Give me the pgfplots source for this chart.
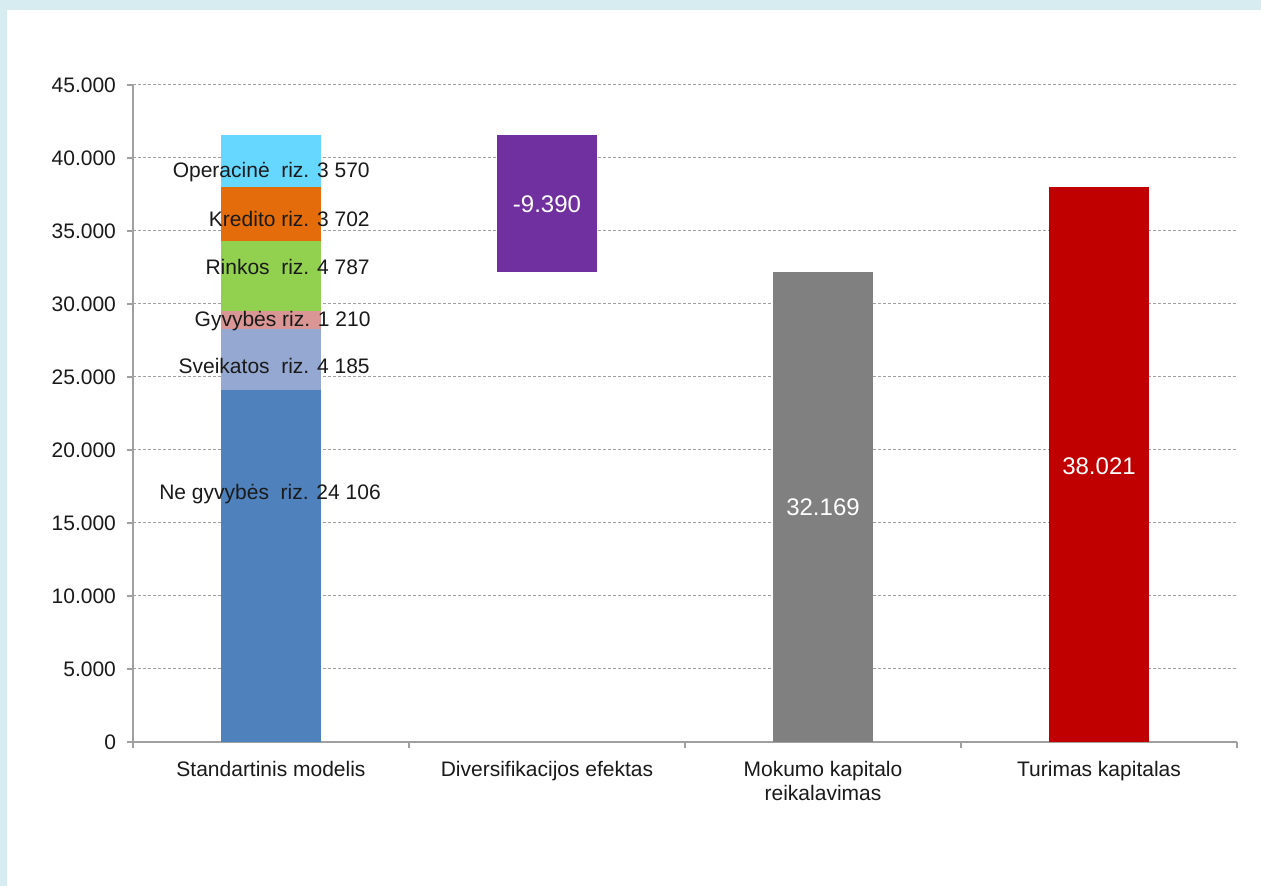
\documentclass[border=0pt]{standalone}
\usepackage{pgfplots}
\pgfplotsset{compat=1.18}
\usepackage{pgfplotstable}
\usepackage{fontspec}
\setmainfont{Liberation Sans}

\definecolor{bgframe}{RGB}{214,236,241}
\definecolor{axisgrey}{RGB}{160,160,160}
\definecolor{gridgrey}{RGB}{160,160,160}
\definecolor{txt}{RGB}{26,26,26}
\definecolor{cnegyv}{RGB}{79,129,189}
\definecolor{csveik}{RGB}{149,168,209}
\definecolor{cgyv}{RGB}{217,150,148}
\definecolor{crinkos}{RGB}{146,208,80}
\definecolor{ckred}{RGB}{228,108,10}
\definecolor{coper}{RGB}{102,215,255}
\definecolor{cdiv}{RGB}{112,48,160}
\definecolor{cmok}{RGB}{128,128,128}
\definecolor{ctur}{RGB}{192,0,0}

\pgfplotstableread{
x base negyv sveik gyv rinkos kred oper div mok tur
0 0 24106 4185 1210 4787 3702 3570 0 0 0
1 32169 0 0 0 0 0 0 9390 0 0
2 0 0 0 0 0 0 0 0 32169 0
3 0 0 0 0 0 0 0 0 0 38021
}\datatable

\newcommand{\chartfont}{\fontsize{10.5}{12}\selectfont}

\pgfplotsset{
  chartframe/.style={
    at={(66.5pt,72pt)}, anchor=south west,
    scale only axis, width=552pt, height=328.5pt,
    xmin=-0.5, xmax=3.5, ymin=0, ymax=45000,
  }
}

\begin{document}
\begin{tikzpicture}
\fill[bgframe] (0,0) rectangle (630.5pt,443pt);
\fill[white] (3.5pt,0) rectangle (630.5pt,438pt);
\begin{axis}[
  chartframe,
  ybar stacked, bar width=50pt,
  ytick={0,5000,...,45000},
  scaled y ticks=false,
  /pgf/number format/.cd, 1000 sep={.}, assume math mode=true, /pgfplots/.cd,
  axis x line*=bottom, axis y line*=left,
  axis line style={draw=axisgrey, line width=0.75pt, -},
  xtick={0,1,2,3},
  xticklabels={Standartinis modelis, Diversifikacijos efektas, {Mokumo kapitalo\\reikalavimas}, Turimas kapitalas},
  major x tick style={draw=none},
  minor xtick={-0.5,0.5,1.5,2.5,3.5},
  minor x tick style={draw=axisgrey, line width=0.75pt},
  y tick style={draw=axisgrey, line width=0.75pt},
  tick align=outside,
  major tick length=3pt, minor tick length=3pt,
  ymajorgrids,
  grid style={gridgrey, line width=0.5pt, dash pattern=on 1.5pt off 1pt},
  every tick label/.append style={font=\chartfont, text=txt},
  xticklabel style={align=center, yshift=-3pt},
  yticklabel style={xshift=-2pt},
  every axis plot/.append style={draw=none},
]
\addplot[fill=none, draw=none] table[x=x, y=base] {\datatable};
\addplot[fill=cnegyv] table[x=x, y=negyv] {\datatable};
\addplot[fill=csveik] table[x=x, y=sveik] {\datatable};
\addplot[fill=cgyv] table[x=x, y=gyv] {\datatable};
\addplot[fill=crinkos] table[x=x, y=rinkos] {\datatable};
\addplot[fill=ckred] table[x=x, y=kred] {\datatable};
\addplot[fill=coper] table[x=x, y=oper] {\datatable};
\addplot[fill=cdiv] table[x=x, y=div] {\datatable};
\addplot[fill=cmok] table[x=x, y=mok] {\datatable};
\addplot[fill=ctur] table[x=x, y=tur] {\datatable};
\end{axis}
\begin{axis}[chartframe, hide axis]
\node[anchor=east, font=\chartfont, text=txt, inner sep=0pt] at (axis cs:0.359,39040) {Operacinė\ \ riz. 3 570};
\node[anchor=east, font=\chartfont, text=txt, inner sep=0pt] at (axis cs:0.359,35820) {Kredito riz. 3 702};
\node[anchor=east, font=\chartfont, text=txt, inner sep=0pt] at (axis cs:0.359,32530) {Rinkos\ \ riz. 4 787};
\node[anchor=east, font=\chartfont, text=txt, inner sep=0pt] at (axis cs:0.362,28840) {Gyvybės riz. 1 210};
\node[anchor=east, font=\chartfont, text=txt, inner sep=0pt] at (axis cs:0.359,25750) {Sveikatos\ \ riz. 4 185};
\node[anchor=east, font=\chartfont, text=txt, inner sep=0pt] at (axis cs:0.399,16990) {Ne gyvybės\ \ riz. 24 106};
\node[font=\fontsize{12}{14}\selectfont, text=white] at (axis cs:1,36860) {-9.390};
\node[font=\fontsize{12}{14}\selectfont, text=white] at (axis cs:2,16080) {32.169};
\node[font=\fontsize{12}{14}\selectfont, text=white] at (axis cs:3,18900) {38.021};
\end{axis}
\end{tikzpicture}
\end{document}
